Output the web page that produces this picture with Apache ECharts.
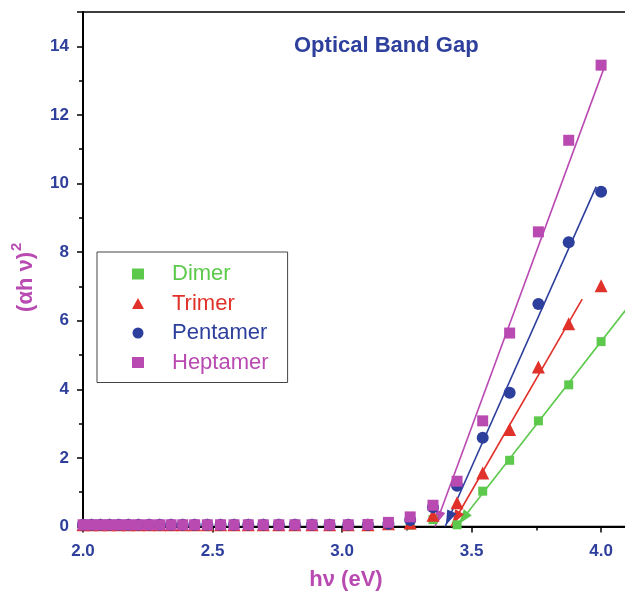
<!DOCTYPE html>
<html>
<head>
<meta charset="utf-8">
<script src="https://cdn.jsdelivr.net/npm/echarts@6/dist/echarts.min.js"></script>
<style>
    html, body {margin: 0; padding: 0; background: #fff;}
    #main {width: 625px; height: 592px;}
</style>
</head>
<body>
<div id="main"></div>
<script>
// photon energy (eV) of each measured point
var hv = [2.000, 2.033, 2.067, 2.102, 2.138, 2.175, 2.214, 2.255, 2.296, 2.340, 2.385,
    2.431, 2.480, 2.531, 2.583, 2.638, 2.696, 2.756, 2.818, 2.884, 2.952, 3.024,
    3.100, 3.179, 3.263, 3.351, 3.444, 3.543, 3.647, 3.758, 3.875, 4.000];

var dimer = [0.05, 0.05, 0.05, 0.05, 0.05, 0.05, 0.05, 0.05, 0.05, 0.05, 0.05,
    0.05, 0.05, 0.05, 0.05, 0.05, 0.05, 0.05, 0.05, 0.05, 0.05, 0.05,
    0.05, 0.05, 0.04, 0.2, 0.05, 1.03, 1.93, 3.08, 4.13, 5.39];
var trimer = [0.05, 0.05, 0.05, 0.05, 0.05, 0.05, 0.05, 0.05, 0.05, 0.05, 0.05,
    0.05, 0.05, 0.05, 0.05, 0.05, 0.05, 0.05, 0.05, 0.05, 0.05, 0.05,
    0.05, 0.08, 0.1, 0.33, 0.69, 1.56, 2.83, 4.65, 5.91, 7.02];
var pentamer = [0.05, 0.05, 0.05, 0.05, 0.05, 0.05, 0.05, 0.05, 0.05, 0.05, 0.05,
    0.05, 0.05, 0.05, 0.05, 0.05, 0.05, 0.05, 0.05, 0.05, 0.05, 0.05,
    0.05, 0.08, 0.19, 0.56, 1.19, 2.59, 3.90, 6.49, 8.29, 9.76];
var heptamer = [0.05, 0.05, 0.05, 0.05, 0.05, 0.05, 0.05, 0.05, 0.05, 0.05, 0.05,
    0.05, 0.05, 0.05, 0.05, 0.05, 0.05, 0.05, 0.05, 0.05, 0.05, 0.05,
    0.06, 0.12, 0.28, 0.62, 1.32, 3.08, 5.64, 8.59, 11.26, 13.45];

// linear fits: [x at axis, y=0] -> [x end, y end]
var dimerFit = [[3.443, 0], [4.10, 6.36]];
var trimerFit = [[3.421, 0], [3.927, 6.63]];
var pentamerFit = [[3.398, 0], [3.981, 9.91]];
var heptamerFit = [[3.359, 0], [4.009, 13.32]];

var names = ['Dimer', 'Trimer', 'Pentamer', 'Heptamer'];
var colors = ['#5cc84c', '#e0312a', '#2d3f9c', '#b94ab1'];
var symbols = ['rect', 'triangle', 'circle', 'rect'];
var symbolSizes = [9, 13, 12, 11];
var blue = '#2e409c';
var magenta = '#b94ab1';

function pts(ys) {
    var out = [];
    for (var i = 0; i < hv.length; i++) {
        out.push([hv[i], ys[i]]);
    }
    return out;
}

// arrow head at the axis end of each fit line, pointing along the line
function arrow(fit, color) {
    var x0 = fit[0][0], x1 = fit[1][0], y1 = fit[1][1];
    var slope = y1 / (x1 - x0);
    var y = 0.24;
    var angle = Math.atan2(slope * 34.4, 259) * 180 / Math.PI;
    return {
        type: 'scatter', silent: true, z: 3,
        symbol: 'triangle', symbolSize: [10, 15], symbolRotate: 90 + angle,
        itemStyle: {color: color, opacity: 1},
        data: [[x0 + y / slope, y]]
    };
}

var seriesData = [dimer, trimer, pentamer, heptamer];
var fits = [dimerFit, trimerFit, pentamerFit, heptamerFit];

var series = [];
for (var k = 0; k < 4; k++) {
    series.push({
        type: 'line', silent: true, z: 2,
        data: fits[k], showSymbol: false, symbol: 'none',
        lineStyle: {color: colors[k], width: 1.6}
    });
    series.push(arrow(fits[k], colors[k]));
}
for (var k = 0; k < 4; k++) {
    series.push({
        name: names[k], type: 'scatter', z: 4,
        symbol: symbols[k], symbolSize: symbolSizes[k],
        itemStyle: {color: colors[k], opacity: 1},
        data: pts(seriesData[k])
    });
}

var myChart = echarts.init(document.getElementById('main'));
myChart.setOption({
    animation: false,
    textStyle: {fontFamily: '"Liberation Sans", Arial, sans-serif'},
    title: {
        text: 'Optical Band Gap',
        left: 289, top: 30,
        textStyle: {color: blue, fontSize: 22, fontWeight: 'bold'}
    },
    legend: {
        orient: 'vertical',
        left: 97, top: 252,
        data: names.map(function (n, i) {
            return {name: n, textStyle: {color: colors[i]}};
        }),
        itemWidth: 12, itemHeight: 11, itemGap: 7.5,
        padding: [11, 19, 9, 35],
        borderColor: '#444', borderWidth: 1,
        backgroundColor: '#fff',
        textStyle: {fontSize: 22, lineHeight: 22, padding: [0, 0, 0, 23]}
    },
    grid: {
        left: 83, right: -2, top: 12, bottom: 65.5,
        outerBoundsMode: 'none',
        show: true, borderColor: '#000', borderWidth: 1.5
    },
    xAxis: {
        type: 'value', min: 2.0, max: 4.1, interval: 0.5,
        name: 'hν (eV)', nameLocation: 'middle', nameGap: 42,
        nameTextStyle: {color: magenta, fontSize: 22, fontWeight: 'bold', padding: [0, 18, 0, 0]},
        axisLine: {lineStyle: {color: '#000', width: 2}},
        axisTick: {inside: false, length: 6, lineStyle: {color: '#000', width: 1.5}},
        minorTick: {show: true, splitNumber: 2, length: 4, lineStyle: {color: '#000', width: 1.5}},
        axisLabel: {
            color: blue, fontSize: 17, fontWeight: 'bold', margin: 16,
            showMaxLabel: false,
            formatter: function (v) { return v.toFixed(1); }
        },
        splitLine: {show: false}
    },
    yAxis: {
        type: 'value', min: 0, max: 15, interval: 2,
        name: '{a|(αh ν)}{s|2}', nameLocation: 'middle', nameGap: 40,
        nameTextStyle: {
            color: magenta, fontWeight: 'bold', padding: [0, 16, 0, 0],
            rich: {
                a: {color: magenta, fontSize: 22, fontWeight: 'bold', lineHeight: 34},
                s: {color: magenta, fontSize: 15, fontWeight: 'bold', lineHeight: 15,
                    verticalAlign: 'top', padding: [0, 0, 0, 1]}
            }
        },
        axisLine: {lineStyle: {color: '#000', width: 2}},
        axisTick: {inside: false, length: 6, lineStyle: {color: '#000', width: 1.5}},
        minorTick: {show: true, splitNumber: 2, length: 4, lineStyle: {color: '#000', width: 1.5}},
        axisLabel: {color: blue, fontSize: 17, fontWeight: 'bold', margin: 14, showMaxLabel: false},
        splitLine: {show: false}
    },
    series: series
});
</script>
</body>
</html>
